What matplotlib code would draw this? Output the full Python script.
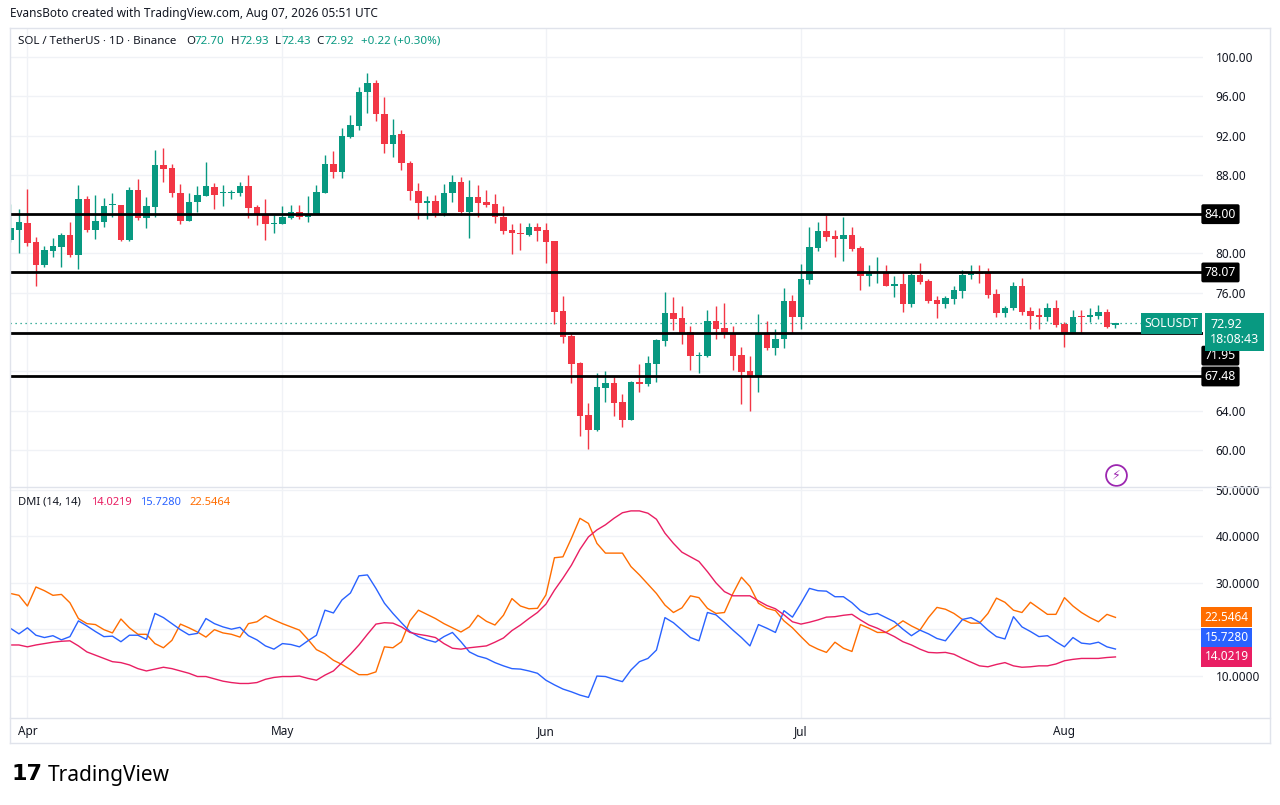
import matplotlib.pyplot as plt
from matplotlib.lines import Line2D
import numpy as np
import pandas as pd

plt.rcParams['font.family'] = ['Noto Sans', 'DejaVu Sans']

GREEN = '#089981'
RED = '#F23645'
ADX_C = '#E91E63'
PDI_C = '#2962FF'
MDI_C = '#FF6D00'
TXT = '#131722'
GRID = '#f0f2f6'
BORDER = '#e0e3eb'

dates = pd.date_range('2026-03-30', '2026-08-07', freq='D')

opens = [81.40, 82.39, 83.14, 81.17, 78.83, 80.25, 80.70, 81.88, 79.85, 85.55,
         82.39, 83.24, 84.90, 84.94, 81.37, 86.46, 83.65, 84.77, 89.00, 88.70,
         86.12, 83.34, 85.20, 85.88, 86.73, 86.15, 86.20, 86.12, 86.87, 84.70,
         84.02, 83.00, 82.97, 83.65, 84.19, 83.75, 83.99, 86.20, 89.11, 88.33,
         91.89, 93.00, 96.40, 97.32, 94.20, 91.11, 92.16, 89.18, 86.40, 85.17,
         85.34, 84.16, 86.12, 87.28, 84.23, 85.78, 85.28, 85.00, 83.75, 82.39,
         82.10, 81.88, 82.66, 82.39, 81.27, 74.15, 71.60, 68.82, 63.56, 62.03,
         66.35, 66.79, 64.85, 63.05, 66.89, 66.72, 68.75, 71.13, 73.91, 73.40,
         71.97, 69.57, 69.57, 73.16, 72.38, 71.94, 69.67, 68.04, 67.53, 71.87,
         70.42, 71.27, 75.17, 73.57, 77.30, 80.60, 82.29, 81.78, 81.51, 81.88,
         80.56, 77.71, 78.05, 78.10, 76.73, 76.90, 74.86, 77.81, 77.20, 75.27,
         74.86, 75.37, 76.22, 77.78, 78.15, 77.98, 75.88, 73.91, 74.42, 76.69,
         74.15, 73.71, 73.57, 74.42, 72.83, 71.87, 73.64, 73.50, 73.64, 74.02,
         72.70]
highs = [85.00, 84.53, 86.57, 81.65, 80.76, 81.54, 82.05, 83.17, 86.97, 85.85,
         85.95, 85.60, 86.20, 84.95, 86.73, 87.55, 85.72, 90.53, 90.77, 89.11,
         87.07, 86.12, 86.87, 89.35, 87.14, 86.97, 86.46, 87.24, 87.99, 84.94,
         85.51, 83.92, 84.83, 84.94, 84.94, 85.85, 86.97, 90.03, 90.47, 92.74,
         94.10, 96.98, 98.34, 97.66, 95.90, 93.66, 92.57, 89.45, 87.21, 85.85,
         85.95, 87.07, 87.99, 87.82, 87.48, 86.97, 86.46, 86.06, 84.83, 83.00,
         83.14, 83.14, 83.14, 83.14, 81.27, 75.67, 71.87, 68.99, 64.75, 67.80,
         68.07, 67.46, 65.70, 67.06, 68.75, 69.57, 71.27, 76.10, 75.54, 74.66,
         72.62, 70.01, 74.25, 74.66, 75.00, 72.62, 70.45, 69.57, 73.84, 73.16,
         72.28, 76.46, 75.78, 78.93, 82.66, 83.17, 83.92, 82.39, 83.75, 82.66,
         80.76, 78.83, 79.61, 78.83, 77.71, 78.05, 78.05, 79.00, 77.37, 75.67,
         75.67, 76.69, 78.32, 78.83, 78.83, 78.49, 76.35, 74.66, 77.13, 77.47,
         74.52, 74.42, 74.93, 75.27, 73.06, 74.25, 74.25, 74.42, 74.76, 74.32,
         72.93]
lows = [81.20, 80.08, 80.76, 76.73, 78.60, 79.60, 78.60, 79.60, 78.39, 82.22,
        81.44, 82.66, 83.75, 81.30, 81.30, 83.40, 82.63, 83.75, 87.31, 85.78,
        82.97, 83.30, 84.26, 85.80, 84.50, 84.87, 85.50, 85.85, 83.65, 82.90,
        81.37, 82.12, 82.97, 83.48, 83.51, 83.24, 83.99, 86.12, 87.65, 87.65,
        91.72, 92.57, 94.33, 93.49, 90.26, 89.86, 88.50, 85.45, 83.48, 83.48,
        83.68, 83.82, 85.28, 83.92, 81.54, 83.68, 84.70, 83.07, 81.98, 79.95,
        80.36, 81.78, 81.30, 79.07, 72.83, 70.92, 66.79, 61.46, 60.10, 61.97,
        64.92, 63.46, 62.37, 63.05, 65.94, 66.52, 66.96, 70.59, 72.20, 70.79,
        68.14, 67.87, 69.43, 71.30, 71.37, 68.14, 64.68, 64.00, 65.94, 70.18,
        69.67, 70.35, 71.87, 72.28, 76.90, 80.29, 81.30, 79.68, 79.27, 80.29,
        76.29, 76.69, 77.03, 76.69, 75.61, 74.08, 74.59, 76.90, 75.00, 73.40,
        74.42, 74.86, 75.44, 77.44, 77.03, 75.44, 73.50, 73.57, 74.25, 73.74,
        72.28, 72.28, 73.16, 72.49, 70.52, 71.87, 71.94, 73.06, 73.30, 72.38,
        72.43]
closes = [82.60, 83.24, 81.04, 78.83, 80.36, 80.76, 81.88, 79.85, 85.55, 82.39,
          83.31, 84.84, 84.95, 81.37, 86.46, 83.65, 84.84, 89.00, 88.63, 86.12,
          83.34, 85.24, 85.95, 86.87, 85.95, 86.20, 86.22, 86.87, 84.67, 84.02,
          82.97, 83.05, 83.75, 84.19, 83.75, 83.99, 86.23, 89.11, 88.33, 91.96,
          93.08, 96.47, 97.32, 94.17, 91.11, 92.06, 89.18, 86.40, 85.17, 85.34,
          84.16, 86.12, 87.28, 84.23, 85.78, 85.17, 84.94, 83.68, 82.32, 82.05,
          82.03, 82.73, 82.32, 81.20, 74.08, 71.54, 68.75, 63.50, 62.03, 66.38,
          66.79, 64.82, 63.05, 66.89, 66.75, 68.82, 71.20, 73.91, 73.33, 71.94,
          69.57, 69.67, 73.16, 72.32, 71.87, 69.57, 67.97, 67.53, 71.87, 70.42,
          71.30, 75.17, 73.57, 77.37, 80.63, 82.29, 81.71, 81.51, 81.88, 80.42,
          77.71, 78.05, 78.10, 76.69, 76.86, 74.86, 77.81, 77.13, 75.17, 74.86,
          75.44, 76.29, 77.81, 78.15, 77.91, 75.78, 73.91, 74.42, 76.69, 74.08,
          73.64, 73.57, 74.42, 72.72, 71.87, 73.50, 73.54, 73.74, 74.02, 72.55,
          72.92]

adx = [16.6, 16.6, 16.2, 16.6, 16.9, 17.2, 17.4, 17.5, 16.4, 15.1,
       14.4, 13.7, 13.0, 12.8, 12.3, 11.5, 11.0, 11.4, 11.8, 11.5,
       11.0, 10.5, 9.8, 9.8, 9.3, 8.8, 8.5, 8.3, 8.3, 8.5,
       9.2, 9.6, 9.8, 9.8, 9.9, 9.4, 9.0, 10.1, 11.0, 12.8,
       14.6, 16.6, 18.9, 21.1, 21.4, 21.3, 20.5, 19.3, 18.9, 18.6,
       18.2, 16.9, 15.9, 15.7, 16.0, 16.2, 16.4, 17.2, 18.1, 19.7,
       20.9, 22.3, 23.6, 25.4, 28.4, 31.0, 33.8, 37.2, 39.9, 41.4,
       42.5, 43.9, 45.1, 45.5, 45.5, 45.0, 43.7, 40.7, 38.5, 36.6,
       35.6, 34.6, 32.4, 30.0, 28.1, 27.2, 27.2, 27.2, 26.1, 25.1,
       24.4, 23.1, 21.6, 21.1, 21.5, 22.0, 22.6, 22.7, 23.0, 23.2,
       22.0, 20.9, 20.2, 19.3, 18.4, 17.3, 16.6, 15.7, 15.0, 14.9,
       15.0, 14.6, 13.7, 12.9, 12.1, 11.9, 12.4, 12.8, 12.1, 11.8,
       11.9, 12.1, 12.1, 12.5, 13.2, 13.5, 13.7, 13.7, 13.7, 13.9,
       14.0219]
plus_di = [20.2, 19.0, 20.3, 18.7, 18.2, 18.6, 17.7, 18.4, 21.8, 20.7,
           19.5, 18.4, 18.5, 17.3, 18.7, 18.7, 17.8, 23.4, 22.5, 21.2,
           19.9, 18.8, 19.1, 22.3, 21.2, 20.5, 20.0, 20.4, 18.6, 17.7,
           16.4, 15.7, 16.9, 16.7, 16.2, 17.5, 18.7, 24.1, 23.5, 26.3,
           27.8, 31.5, 31.7, 28.8, 25.6, 23.4, 21.4, 19.5, 18.4, 17.7,
           17.2, 18.4, 19.3, 17.3, 15.1, 14.2, 13.7, 12.8, 12.1, 11.5,
           11.4, 11.0, 10.5, 9.0, 8.0, 7.1, 6.5, 5.8, 5.3, 9.9,
           9.8, 9.2, 8.7, 11.2, 13.0, 13.7, 15.5, 22.5, 21.4, 19.8,
           18.2, 17.5, 23.6, 23.1, 21.5, 19.8, 18.2, 16.4, 21.0, 20.2,
           19.3, 24.0, 22.6, 25.6, 28.8, 28.3, 28.2, 27.0, 27.0, 25.7,
           24.0, 23.1, 23.4, 22.5, 21.6, 20.0, 18.6, 19.8, 19.0, 18.0,
           17.5, 19.8, 22.1, 22.5, 21.5, 19.8, 18.4, 17.9, 22.7, 20.5,
           19.5, 18.4, 18.6, 17.3, 16.2, 18.2, 17.0, 16.8, 17.2, 16.2,
           15.7280]
minus_di = [27.7, 27.3, 25.0, 29.1, 28.3, 27.3, 27.5, 25.7, 22.3, 21.2,
            21.0, 19.9, 19.2, 22.2, 20.3, 18.9, 18.9, 16.9, 16.0, 17.6,
            21.1, 20.3, 19.4, 18.3, 19.9, 19.2, 18.9, 18.3, 21.2, 21.6,
            22.9, 22.0, 21.2, 20.5, 19.8, 17.8, 15.6, 14.7, 13.3, 12.4,
            11.3, 10.2, 10.2, 10.8, 16.2, 16.0, 17.3, 21.8, 24.1, 23.2,
            22.3, 21.2, 20.3, 19.4, 20.5, 23.0, 21.7, 20.9, 23.0, 26.6,
            25.0, 24.4, 24.5, 27.4, 35.4, 35.6, 39.6, 43.9, 42.8, 38.5,
            36.4, 36.4, 36.4, 33.5, 31.7, 29.7, 27.7, 25.2, 23.6, 24.6,
            27.2, 26.8, 24.5, 23.4, 23.6, 27.7, 31.2, 29.2, 25.6, 24.5,
            24.0, 21.8, 20.3, 18.4, 16.6, 15.7, 15.0, 17.2, 15.9, 15.2,
            21.0, 20.2, 19.3, 19.3, 20.5, 21.8, 20.7, 19.8, 22.5, 24.7,
            24.3, 23.4, 22.1, 21.3, 21.3, 23.4, 26.7, 25.8, 24.1, 23.6,
            25.8, 24.5, 23.2, 23.2, 26.8, 25.0, 23.6, 22.5, 21.6, 23.2,
            22.5464]

levels = [84.00, 78.07, 71.95, 67.48]
price_grid = [60, 64, 68, 72, 76, 80, 84, 88, 92, 96, 100]
price_hidden = [68, 72, 84]
dmi_grid = [10, 20, 30, 40, 50]
dmi_hidden = [20]

W, H = 1280, 805
fig = plt.figure(figsize=(W / 100, H / 100), dpi=100)


def fx(px):
    return px / W


def fy(py):
    return 1 - py / H


ax = fig.add_axes([fx(10), fy(487), fx(1203) - fx(10), fy(28) - fy(487)])
axd = fig.add_axes([fx(10), fy(718), fx(1203) - fx(10), fy(487) - fy(718)], sharex=ax)

idx = np.arange(len(dates))
o, h, l, c = map(np.array, (opens, highs, lows, closes))
colors = np.where(c >= o, GREEN, RED)

# candles
ax.vlines(idx, l, h, colors=colors, linewidth=1, zorder=3)
ax.bar(idx, np.maximum(np.abs(c - o), 0.09), bottom=np.minimum(o, c),
       width=0.74, color=colors, linewidth=0, zorder=4)

month_pos = [i for i, d in enumerate(dates) if d.day == 1]
month_lab = [dates[i].strftime('%b') for i in month_pos]

for a in (ax, axd):
    for s in a.spines.values():
        s.set_visible(False)
    for m in month_pos:
        a.axvline(m, color=GRID, lw=1, zorder=0)
    a.tick_params(length=0, labelsize=8.5, labelcolor=TXT)
    a.yaxis.tick_right()

ax.set_xlim(-0.05, 140.3)
ax.set_ylim(56.23, 102.95)
ax.set_yticks(price_grid)
ax.set_yticklabels(['' if v in price_hidden else f'{v:.2f}' for v in price_grid])
ax.tick_params(axis='y', pad=9)
ax.tick_params(axis='x', labelbottom=False)
for v in price_grid:
    ax.axhline(v, color=GRID, lw=1, zorder=0)

# horizontal levels
label_nudge = {71.95: -2.35}
for v in levels:
    ax.axhline(v, color='black', lw=2, zorder=5)
    ax.text(1.0015, v + label_nudge.get(v, 0), f'{v:.2f}', transform=ax.get_yaxis_transform(),
            ha='left', va='center', color='white', fontsize=8.8, fontweight='bold', zorder=10,
            bbox=dict(boxstyle='round,pad=0.28,rounding_size=0.15', fc='black', ec='none'),
            clip_on=False)

# last price
last = closes[-1]
ax.axhline(last, color=GREEN, lw=0.9, linestyle=(0, (1, 3)), zorder=2)
ax.text(0.996, last - 0.05, 'SOLUSDT', transform=ax.get_yaxis_transform(), ha='right', va='center',
        color='white', fontsize=8.8, zorder=10,
        bbox=dict(boxstyle='square,pad=0.3', fc=GREEN, ec='none'))
ax.text(1.006, last + 0.55, f'{last:.2f}\n18:08:43', transform=ax.get_yaxis_transform(),
        ha='left', va='top', color='white', fontsize=9, linespacing=1.2, zorder=11,
        bbox=dict(boxstyle='square,pad=0.4', fc=GREEN, ec='none'), clip_on=False)

# lightning icon
ax.plot(0.927, 0.026, transform=ax.transAxes, marker='o', ms=15, mfc='white',
        mec='#9C27B0', mew=1.3, zorder=12, clip_on=False)
ax.text(0.927, 0.026, '\u26a1', transform=ax.transAxes, ha='center', va='center',
        color='#9C27B0', fontsize=9, family=['DejaVu Sans'], zorder=13)

# DMI panel
axd.plot(idx, minus_di, color=MDI_C, lw=1.0)
axd.plot(idx, plus_di, color=PDI_C, lw=1.0)
axd.plot(idx, adx, color=ADX_C, lw=1.0)
axd.set_ylim(0.86, 50.65)
axd.set_yticks(dmi_grid)
axd.set_yticklabels(['' if v in dmi_hidden else f'{v:.4f}' for v in dmi_grid])
axd.tick_params(axis='y', pad=9)
for v in dmi_grid:
    axd.axhline(v, color=GRID, lw=1, zorder=0)
axd.set_xticks(month_pos)
axd.set_xticklabels(month_lab)
axd.tick_params(axis='x', pad=5)

dmi_last = [(minus_di[-1], MDI_C, 0), (plus_di[-1], PDI_C, 2.4), (adx[-1], ADX_C, 0)]
for v, col, nudge in dmi_last:
    axd.text(1.0015, v + nudge, f'{v:.4f}', transform=axd.get_yaxis_transform(),
             ha='left', va='center', color='white', fontsize=8.5, zorder=10,
             bbox=dict(boxstyle='square,pad=0.3', fc=col, ec='none'), clip_on=False)

# frame lines
for y0 in (28, 487, 718, 743):
    fig.add_artist(Line2D([fx(10), fx(1270)], [fy(y0), fy(y0)], color=BORDER, lw=1))
for x0 in (10, 1270):
    fig.add_artist(Line2D([fx(x0), fx(x0)], [fy(28), fy(743)], color=BORDER, lw=1))

# header texts
fig.text(fx(10), fy(14), 'EvansBoto created with TradingView.com, Aug 07, 2026 05:51 UTC',
         fontsize=8.5, color=TXT, va='center')
fig.text(fx(18), fy(41), 'SOL / TetherUS \u00b7 1D \u00b7 Binance', fontsize=8.3, color=TXT, va='center')
ohlc = [('O', opens[-1], 186), ('H', highs[-1], 231), ('L', lows[-1], 275), ('C', closes[-1], 316)]
for key, val, px in ohlc:
    fig.text(fx(px), fy(41), key, fontsize=8.3, color=TXT, va='center')
    fig.text(fx(px + (7 if key == 'L' else 9)), fy(41), f'{val:.2f}', fontsize=8.3, color=GREEN,
             va='center')
chg = closes[-1] - opens[-1]
fig.text(fx(361), fy(41), f'+{chg:.2f} (+{chg / opens[-1] * 100:.2f}%)', fontsize=8.3,
         color=GREEN, va='center')

fig.text(fx(18), fy(502), 'DMI (14, 14)', fontsize=8, color=TXT, va='center')
for val, col, px in [(adx[-1], ADX_C, 91), (plus_di[-1], PDI_C, 140), (minus_di[-1], MDI_C, 189)]:
    fig.text(fx(px), fy(502), f'{val:.4f}', fontsize=8, color=col, va='center')

# watermark
fig.text(fx(11), fy(774), '17', fontsize=16, fontweight='bold', family=['DejaVu Sans'],
         color='black', va='center')
fig.text(fx(48), fy(775), 'TradingView', fontsize=15, fontweight='bold', color='black',
         va='center')

fig.savefig('out.png', dpi=100)
